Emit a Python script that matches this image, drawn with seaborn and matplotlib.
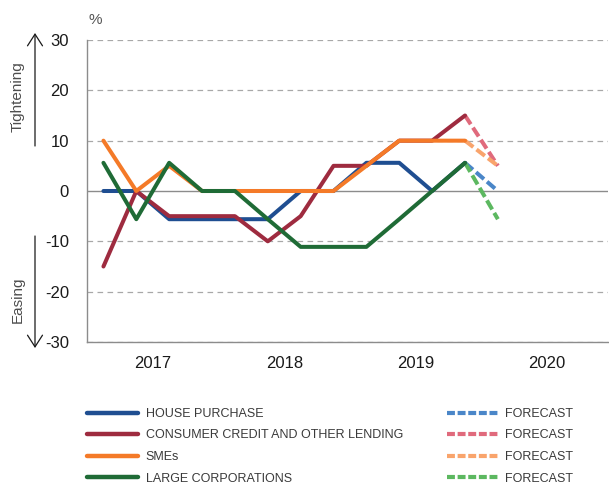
import matplotlib
matplotlib.use("Agg")
import matplotlib.pyplot as plt
from matplotlib import font_manager
from matplotlib.lines import Line2D
import seaborn as sns
import pandas as pd
import numpy as np

# ---------------- data ----------------
quarters = ["2017Q1", "2017Q2", "2017Q3", "2017Q4",
            "2018Q1", "2018Q2", "2018Q3", "2018Q4",
            "2019Q1", "2019Q2", "2019Q3", "2019Q4"]
forecast_quarters = ["2019Q4", "2020Q1"]
years = ["2017", "2018", "2019", "2020"]

series_names = ["HOUSE PURCHASE", "CONSUMER CREDIT AND OTHER LENDING",
                "SMEs", "LARGE CORPORATIONS"]

house_purchase = [0, 0, -5.6, -5.6, -5.6, -5.6, 0, 0, 5.6, 5.6, 0, 5.6]
consumer_credit = [-15, 0, -5, -5, -5, -10, -5, 5, 5, 10, 10, 15]
smes = [10, 0, 5, 0, 0, 0, 0, 0, 5, 10, 10, 10]
large_corporations = [5.6, -5.6, 5.6, 0, 0, -5.6, -11.1, -11.1, -11.1, -5.6, 0, 5.6]

house_forecast = [5.6, 0]
consumer_forecast = [15, 5]
smes_forecast = [10, 5]
large_forecast = [5.6, -5.6]

actual_values = [house_purchase, consumer_credit, smes, large_corporations]
forecast_values = [house_forecast, consumer_forecast, smes_forecast, large_forecast]

colors = ["#1f4e91", "#9e2b3f", "#f47a28", "#1f6b36"]
forecast_colors = ["#4a86c8", "#e06a7c", "#f9a46c", "#5cb860"]

# ---------------- fonts ----------------
available = {f.name for f in font_manager.fontManager.ttflist}
if "Liberation Sans Narrow" in available:
    legend_family = "Liberation Sans Narrow"
    legend_size = 10.2
else:
    legend_family = "Liberation Sans"
    legend_size = 9.0

sns.set_theme(style="white")
plt.rcParams["font.family"] = ["Liberation Sans", "DejaVu Sans"]

# ---------------- build frames ----------------
all_q = quarters + ["2020Q1", "2020Q2", "2020Q3", "2020Q4"]
qpos = {q: i for i, q in enumerate(all_q)}

rows = []
for name, vals in zip(series_names, actual_values):
    for q, v in zip(quarters, vals):
        rows.append({"series": name, "x": qpos[q], "value": v})
df = pd.DataFrame(rows)

frows = []
for name, vals in zip(series_names, forecast_values):
    for q, v in zip(forecast_quarters, vals):
        frows.append({"series": name, "x": qpos[q], "value": v})
fdf = pd.DataFrame(frows)

# ---------------- figure ----------------
W, H = 609, 484
fig = plt.figure(figsize=(W / 100, H / 100), dpi=100)
ax = fig.add_axes([87 / W, 1 - 342 / H, (608 - 87) / W, (342 - 40) / H])

grid_color = "#a8a8a8"
for yv in [-30, -20, -10, 10, 20, 30]:
    ax.axhline(yv, color=grid_color, lw=0.9, linestyle=(0, (4.5, 3.5)), zorder=0)
ax.axhline(0, color="#8c8c8c", lw=1.0, zorder=0.5)

sns.lineplot(data=df, x="x", y="value", hue="series", hue_order=series_names,
             palette=dict(zip(series_names, colors)), linewidth=2.9,
             sort=False, legend=False, ax=ax, zorder=3)

for name, fc in zip(series_names, forecast_colors):
    sub = fdf[fdf["series"] == name]
    sns.lineplot(data=sub, x="x", y="value", color=fc, linewidth=2.9,
                 linestyle=(0, (2.6, 1.0)), sort=False, legend=False, ax=ax, zorder=2)

ax.set_xlim(-0.5, 15.35)
ax.set_ylim(-30, 30)
ax.set_yticks([-30, -20, -10, 0, 10, 20, 30])
ax.set_yticklabels([str(v) for v in [-30, -20, -10, 0, 10, 20, 30]])
ax.tick_params(axis="y", length=0, pad=13, labelsize=12, labelcolor="#1a1a1a")

year_centers = [1.5, 5.5, 9.5, 13.5]
year_bounds = [3.5, 7.5, 11.5]
ax.set_xticks(year_bounds)
ax.set_xticklabels([])
ax.set_xticks(year_centers, minor=True)
ax.set_xticklabels(years, minor=True)
ax.tick_params(axis="x", which="major", direction="in", length=4, width=0.8,
               color="#8c8c8c")
ax.tick_params(axis="x", which="minor", length=0, pad=10, labelsize=12,
               labelcolor="#1a1a1a")
ax.set_xlabel("")
ax.set_ylabel("")
ax.grid(False)

for s in ["top", "right"]:
    ax.spines[s].set_visible(False)
for s in ["left", "bottom"]:
    ax.spines[s].set_color("#8c8c8c")
    ax.spines[s].set_linewidth(1.0)

# % label
fig.text(95 / W, 1 - 20 / H, "%", fontsize=11, color="#555555",
         ha="center", va="center")

# Tightening / Easing arrows
arrow_kw = dict(arrowstyle="->,head_length=0.7,head_width=0.45", color="#1a1a1a",
                lw=0.9, shrinkA=0, shrinkB=0)
ax.annotate("", xy=(35, H - 33), xytext=(35, H - 146),
            xycoords="figure pixels", textcoords="figure pixels",
            arrowprops=arrow_kw, annotation_clip=False)
ax.annotate("", xy=(35, H - 348), xytext=(35, H - 236),
            xycoords="figure pixels", textcoords="figure pixels",
            arrowprops=arrow_kw, annotation_clip=False)
fig.text(18 / W, 1 - 97 / H, "Tightening", rotation=90, fontsize=11,
         color="#4d4d4d", ha="center", va="center")
fig.text(18 / W, 1 - 300 / H, "Easing", rotation=90, fontsize=11,
         color="#4d4d4d", ha="center", va="center")

# legends
handles_a = [Line2D([], [], color=c, lw=3.2) for c in colors]
handles_f = [Line2D([], [], color=c, lw=3.0, linestyle=(0, (1.9, 0.65)))
             for c in forecast_colors]
leg_kw = dict(loc="upper left", frameon=False, borderpad=0, borderaxespad=0,
              handlelength=4.1, handletextpad=0.58, labelspacing=0.76,
              prop={"family": legend_family, "size": legend_size},
              labelcolor="#3a3a3a")
leg1 = fig.legend(handles_a, series_names,
                  bbox_to_anchor=(87 / W, 1 - 408 / H), **leg_kw)
leg2 = fig.legend(handles_f, ["FORECAST"] * 4,
                  bbox_to_anchor=(447 / W, 1 - 408 / H), **leg_kw)

fig.savefig("out.png", dpi=100)
